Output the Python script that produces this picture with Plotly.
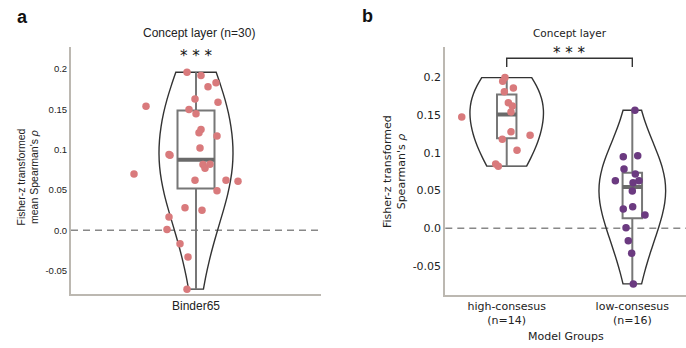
import numpy as np
import plotly.graph_objects as go

# ---------------- data ----------------
# Panel a: Binder65, concept layer (n=30)
a_category = ["Binder65"]
a_values = [0.196, 0.192, 0.178, 0.183, 0.163, 0.159, 0.154, 0.150, 0.1445, 0.125,
            0.121, 0.117, 0.102, 0.094, 0.093, 0.0816, 0.077, 0.082, 0.070, 0.062,
            0.062, 0.061, 0.049, 0.028, 0.025, 0.0166, 0.001, -0.0166, -0.033, -0.073]
a_jitter = [-0.036, 0.020, 0.048, 0.080, -0.004, 0.088, -0.200, -0.028, 0.000, 0.020,
            0.012, 0.084, 0.016, -0.108, -0.104, 0.028, 0.036, 0.056, -0.248, -0.004,
            0.120, 0.168, 0.084, -0.044, 0.024, -0.108, -0.116, -0.064, -0.032, -0.036]

# Panel b: model groups
b_categories = ["high-consesus<br>(n=14)", "low-consesus<br>(n=16)"]
b_high_values = [0.1999, 0.195, 0.186, 0.181, 0.1664, 0.1624, 0.1544, 0.1478, 0.128,
                 0.1236, 0.1183, 0.1037, 0.0852, 0.0825]
b_high_jitter = [-0.014, -0.032, 0.053, -0.019, 0.013, 0.045, 0.034, -0.358, 0.034,
                 0.186, -0.035, 0.082, -0.088, -0.067]
b_low_values = [0.1567, 0.0949, 0.0962, 0.0786, 0.072, 0.0631, 0.0631, 0.0605, 0.0494,
                0.0256, 0.0287, 0.0177, 0.0009, -0.0163, -0.0331, -0.0737]
b_low_jitter = [0.021, -0.072, 0.043, -0.066, 0.024, 0.053, -0.135, 0.006, 0.000,
                -0.072, 0.003, 0.101, -0.050, -0.032, -0.005, 0.008]

y_tickvals = [-0.05, 0.0, 0.05, 0.1, 0.15, 0.2]
y_ticktext = ["-0.05", "0.0", "0.05", "0.1", "0.15", "0.2"]

# ---------------- styles ----------------
PINK = "#d97a7c"
PURPLE = "#6b3a80"
VIOLIN_LINE = "#333333"
BOX_LINE = "#777777"
MEDIAN_LINE = "#6a6a6a"
SPINE = "#bcb8b1"
ARIAL = "Liberation Sans, Arial, sans-serif"
DEJAVU = "DejaVu Sans, sans-serif"
W, H = 686, 348
BW_ADJUST = 1.5


def px_x(p):
    return p / W


def px_y(p):
    return 1 - p / H


def stats(vals):
    v = np.asarray(vals, dtype=float)
    q1, med, q3 = np.percentile(v, [25, 50, 75])
    iqr = q3 - q1
    lo = v[v >= q1 - 1.5 * iqr].min()
    hi = v[v <= q3 + 1.5 * iqr].max()
    return q1, med, q3, lo, hi


def scott_bw(vals):
    v = np.asarray(vals, dtype=float)
    return float(np.std(v, ddof=1) * len(v) ** (-1 / 5)) * BW_ADJUST


fig = go.Figure()


def add_group(vals, jit, pos, color, vwidth, bwidth, xa, ya):
    fig.add_trace(go.Violin(
        y=vals, x0=pos, width=vwidth, scalemode="width", spanmode="hard",
        bandwidth=scott_bw(vals), points=False, box_visible=False,
        meanline_visible=False, line=dict(color=VIOLIN_LINE, width=1.4),
        fillcolor="rgba(0,0,0,0)", hoverinfo="skip", xaxis=xa, yaxis=ya))
    q1, med, q3, lo, hi = stats(vals)
    fig.add_trace(go.Box(
        x=[pos], q1=[q1], median=[med], q3=[q3], lowerfence=[lo], upperfence=[hi],
        width=bwidth, whiskerwidth=0, orientation="v",
        line=dict(color=BOX_LINE, width=2), fillcolor="rgba(0,0,0,0)",
        hoverinfo="skip", xaxis=xa, yaxis=ya))
    fig.add_trace(go.Scatter(
        x=[pos - bwidth / 2, pos + bwidth / 2], y=[med, med], mode="lines",
        line=dict(color=MEDIAN_LINE, width=4), hoverinfo="skip", xaxis=xa, yaxis=ya))
    fig.add_trace(go.Scatter(
        x=[pos + j for j in jit], y=vals, mode="markers",
        marker=dict(color=color, size=7.5, line=dict(width=0)),
        hoverinfo="skip", xaxis=xa, yaxis=ya))


add_group(a_values, a_jitter, 0, PINK, 0.296, 0.148, "x", "y")
add_group(b_high_values, b_high_jitter, 0, PINK, 0.584, 0.155, "x2", "y2")
add_group(b_low_values, b_low_jitter, 1, PURPLE, 0.531, 0.155, "x2", "y2")

axis_common = dict(showgrid=False, zeroline=False, showline=True, linecolor=SPINE,
                   linewidth=2, ticks="", mirror=False, fixedrange=True)

fig.update_layout(
    width=W, height=H, autosize=False,
    margin=dict(l=0, r=0, t=0, b=0, pad=0),
    paper_bgcolor="white", plot_bgcolor="white", showlegend=False,
    xaxis=dict(domain=[px_x(71), px_x(321)], range=[-0.5, 0.5], anchor="y",
               tickvals=[0], ticktext=a_category,
               tickfont=dict(family=ARIAL, size=12, color="#222"), **axis_common),
    yaxis=dict(domain=[px_y(294), px_y(47)], range=[-0.079, 0.2274], anchor="x",
               tickvals=y_tickvals, ticktext=y_ticktext,
               tickfont=dict(family=ARIAL, size=9.5, color="#222"), **axis_common),
    xaxis2=dict(domain=[px_x(445.3), 1.0], range=[-0.489, 1.4275], anchor="y2",
                tickvals=[0, 1], ticktext=b_categories,
                tickfont=dict(family=DEJAVU, size=11, color="#222"), **axis_common),
    yaxis2=dict(domain=[px_y(294.7), px_y(47)], range=[-0.088, 0.2405], anchor="x2",
                tickvals=y_tickvals, ticktext=y_ticktext,
                tickfont=dict(family=DEJAVU, size=11, color="#222"), **axis_common),
)

# zero reference lines
for xr, yr in (("x domain", "y"), ("x2 domain", "y2")):
    fig.add_shape(type="line", xref=xr, yref=yr, x0=0, x1=1, y0=0, y1=0,
                  line=dict(color="#888888", width=1.5, dash="7px,5px"), layer="below")

# significance bracket in panel b
fig.add_shape(type="path", xref="x2", yref="y2",
              path="M 0,0.214 L 0,0.2255 L 1,0.2255 L 1,0.214",
              line=dict(color=VIOLIN_LINE, width=1.4))

ann = [
    dict(text="<b>a</b>", x=px_x(22), y=px_y(17), font=dict(family=ARIAL, size=18, color="#111")),
    dict(text="<b>b</b>", x=px_x(367), y=px_y(16), font=dict(family=ARIAL, size=18, color="#111")),
    dict(text="Concept layer (n=30)", x=px_x(199), y=px_y(33),
         font=dict(family=ARIAL, size=12, color="#222")),
    dict(text="Concept layer", x=px_x(570), y=px_y(33),
         font=dict(family=DEJAVU, size=10.5, color="#222")),
    dict(text="Fisher-z transformed<br>mean Spearman's <i>ρ</i>", x=px_x(27.5), y=px_y(177),
         textangle=-90, font=dict(family=ARIAL, size=10.5, color="#222")),
    dict(text="Fisher-z transformed<br>Spearman's <i>ρ</i>", x=px_x(395), y=px_y(172),
         textangle=-90, font=dict(family=DEJAVU, size=11, color="#222")),
    dict(text="Model Groups", x=px_x(566), y=px_y(336),
         font=dict(family=DEJAVU, size=11, color="#222")),
]
for a in ann:
    fig.add_annotation(xref="paper", yref="paper", xanchor="center", yanchor="middle",
                       showarrow=False, **a)

fig.add_annotation(text="* * *", xref="x", yref="y", x=0, y=0.216, showarrow=False,
                   xanchor="center", yanchor="middle",
                   font=dict(family=DEJAVU, size=15, color="#111"))
fig.add_annotation(text="* * *", xref="x2", yref="y2", x=0.5, y=0.233, showarrow=False,
                   xanchor="center", yanchor="middle",
                   font=dict(family=DEJAVU, size=15, color="#111"))

fig.write_html("out.html", config={"displayModeBar": False},
               post_script="document.body.style.margin='0px';")
